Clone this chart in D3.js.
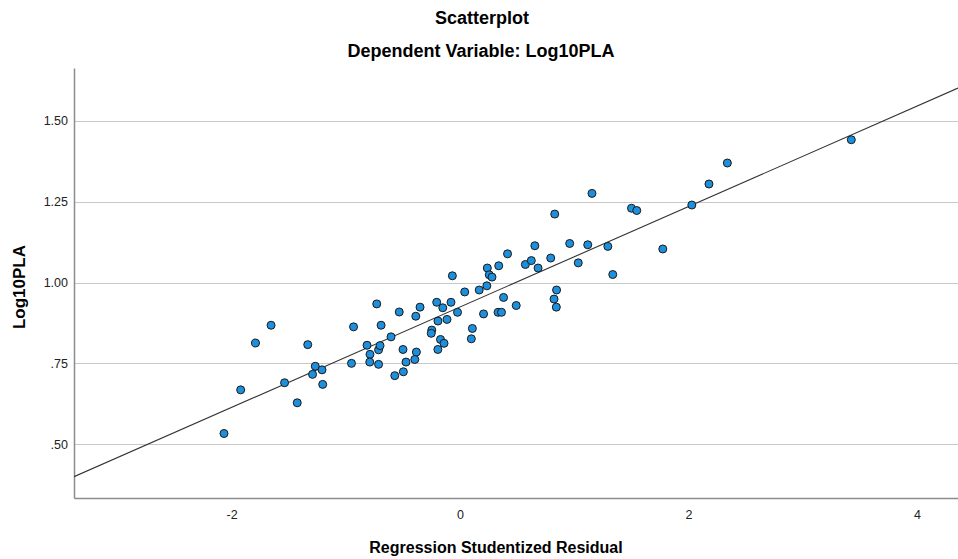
<!DOCTYPE html>
<html>
<head>
<meta charset="utf-8">
<script src="https://cdn.jsdelivr.net/npm/d3@7"></script>
<style>
  body { margin: 0; background: #fff; }
  text { font-family: "Liberation Sans", Arial, sans-serif; }
</style>
</head>
<body>
<div id="chart"></div>
<script>
        const width = 958;
        const height = 559;
        const margin = {top: 68, right: 0, bottom: 61, left: 74};

        // Regression Studentized Residual (x) and Log10PLA (y)
        const residuals = [
            -2.066, -1.920, -1.790, -1.654, -1.536, -1.425, -1.333, -1.267, -1.291, -1.208,
            -1.202, -0.950, -0.932, -0.814, -0.788, -0.790, -0.713, -0.713, -0.700, -0.604,
            -0.691, -0.729, -0.532, -0.499, -0.382, -0.396, -0.473, -0.496, -0.571, -0.387,
            -0.350, -0.204, -0.151, -0.079, -0.022, -0.193, -0.114, -0.247, -0.252, -0.171,
            -0.140, -0.194, -0.067, 0.041, 0.168, 0.235, 0.239, 0.339, 0.256, 0.280,
            0.416, 0.381, 0.492, 0.206, 0.333, 0.363, 0.108, 0.099, 0.572, 0.624,
            0.683, 0.794, 0.655, 0.960, 1.118, 1.035, 0.845, 0.823, 0.843, 0.829,
            1.155, 1.294, 1.337, 1.501, 1.547, 1.775, 2.029, 2.179, 2.340, 3.425
        ];
        const log10PLA = [
            0.533, 0.668, 0.813, 0.868, 0.690, 0.628, 0.808, 0.741, 0.716, 0.730,
            0.685, 0.750, 0.863, 0.806, 0.778, 0.754, 0.747, 0.792, 0.805, 0.832,
            0.868, 0.934, 0.909, 0.793, 0.785, 0.762, 0.754, 0.724, 0.712, 0.896,
            0.924, 0.939, 0.922, 0.939, 0.908, 0.881, 0.886, 0.853, 0.843, 0.824,
            0.812, 0.793, 1.021, 0.971, 0.977, 0.990, 1.045, 1.052, 1.024, 1.017,
            1.089, 0.954, 0.929, 0.903, 0.908, 0.908, 0.858, 0.826, 1.056, 1.068,
            1.045, 1.076, 1.114, 1.121, 1.117, 1.061, 0.977, 0.949, 0.924, 1.212,
            1.276, 1.112, 1.025, 1.230, 1.223, 1.104, 1.240, 1.305, 1.370, 1.442
        ];

        const xTicks = [-2, 0, 2, 4];
        const yTicks = [0.50, 0.75, 1.00, 1.25, 1.50];

        // fit line at total
        const fitIntercept = 0.9245;
        const fitSlope = 0.1554;

        const xDomain = [-3.379, 4.359];
        const yDomain = [0.3334, 1.664];

        const points = residuals.map((r, i) => ({x: r, y: log10PLA[i]}));

        const svg = d3.select("#chart")
                      .append("svg")
                      .attr("width", width)
                      .attr("height", height);

        const x = d3.scaleLinear().domain(xDomain).range([margin.left, width - margin.right]);
        const y = d3.scaleLinear().domain(yDomain).range([height - margin.bottom, margin.top]);

        const fmtY = d => d3.format(".2f")(d).replace(/^0/, "");
        const fmtX = d => String(d); // plain hyphen, like SPSS

        // gridlines
        svg.append("g")
           .selectAll("line")
           .data(yTicks)
           .enter()
           .append("line")
           .attr("x1", margin.left)
           .attr("x2", width - margin.right)
           .attr("y1", d => Math.round(y(d)) + 0.5)
           .attr("y2", d => Math.round(y(d)) + 0.5)
           .attr("stroke", "#c8c8c8")
           .attr("stroke-width", 1);

        // axes
        const yAxis = svg.append("g")
                         .attr("transform", `translate(${margin.left},0)`)
                         .call(d3.axisLeft(y).tickValues(yTicks).tickSize(0).tickPadding(6).tickFormat(fmtY));
        const xAxis = svg.append("g")
                         .attr("transform", `translate(0,${height - margin.bottom})`)
                         .call(d3.axisBottom(x).tickValues(xTicks).tickSize(0).tickPadding(12).tickFormat(fmtX));

        [yAxis, xAxis].forEach(g => {
            g.select(".domain").attr("stroke", "#8c8c8c").attr("stroke-width", 1.5);
            g.selectAll("text").attr("font-size", 12.5).attr("fill", "#222")
             .attr("font-family", "'Liberation Sans', Arial, sans-serif");
        });

        // clip for fit line
        svg.append("clipPath").attr("id", "plot-clip")
           .append("rect")
           .attr("x", margin.left)
           .attr("y", margin.top)
           .attr("width", width - margin.left - margin.right)
           .attr("height", height - margin.top - margin.bottom);

        svg.append("line")
           .attr("clip-path", "url(#plot-clip)")
           .attr("x1", x(xDomain[0]))
           .attr("y1", y(fitIntercept + fitSlope * xDomain[0]))
           .attr("x2", x(xDomain[1]))
           .attr("y2", y(fitIntercept + fitSlope * xDomain[1]))
           .attr("stroke", "#333")
           .attr("stroke-width", 1.1);

        svg.append("g")
           .selectAll("circle")
           .data(points)
           .enter()
           .append("circle")
           .attr("cx", d => x(d.x))
           .attr("cy", d => y(d.y))
           .attr("r", 4)
           .attr("fill", "#1e8fdc")
           .attr("stroke", "#1a1a1a")
           .attr("stroke-width", 1);

        // titles
        svg.append("text")
           .attr("x", 482).attr("y", 24)
           .attr("text-anchor", "middle")
           .attr("font-size", 18).attr("font-weight", "bold")
           .text("Scatterplot");
        svg.append("text")
           .attr("x", 481).attr("y", 57)
           .attr("text-anchor", "middle")
           .attr("font-size", 18).attr("font-weight", "bold")
           .text("Dependent Variable: Log10PLA");

        svg.append("text")
           .attr("transform", "translate(25,287) rotate(-90)")
           .attr("text-anchor", "middle")
           .attr("font-size", 17).attr("font-weight", "bold")
           .text("Log10PLA");

        svg.append("text")
           .attr("x", 496).attr("y", 553)
           .attr("text-anchor", "middle")
           .attr("font-size", 16).attr("font-weight", "bold")
           .text("Regression Studentized Residual");
</script>
</body>
</html>
